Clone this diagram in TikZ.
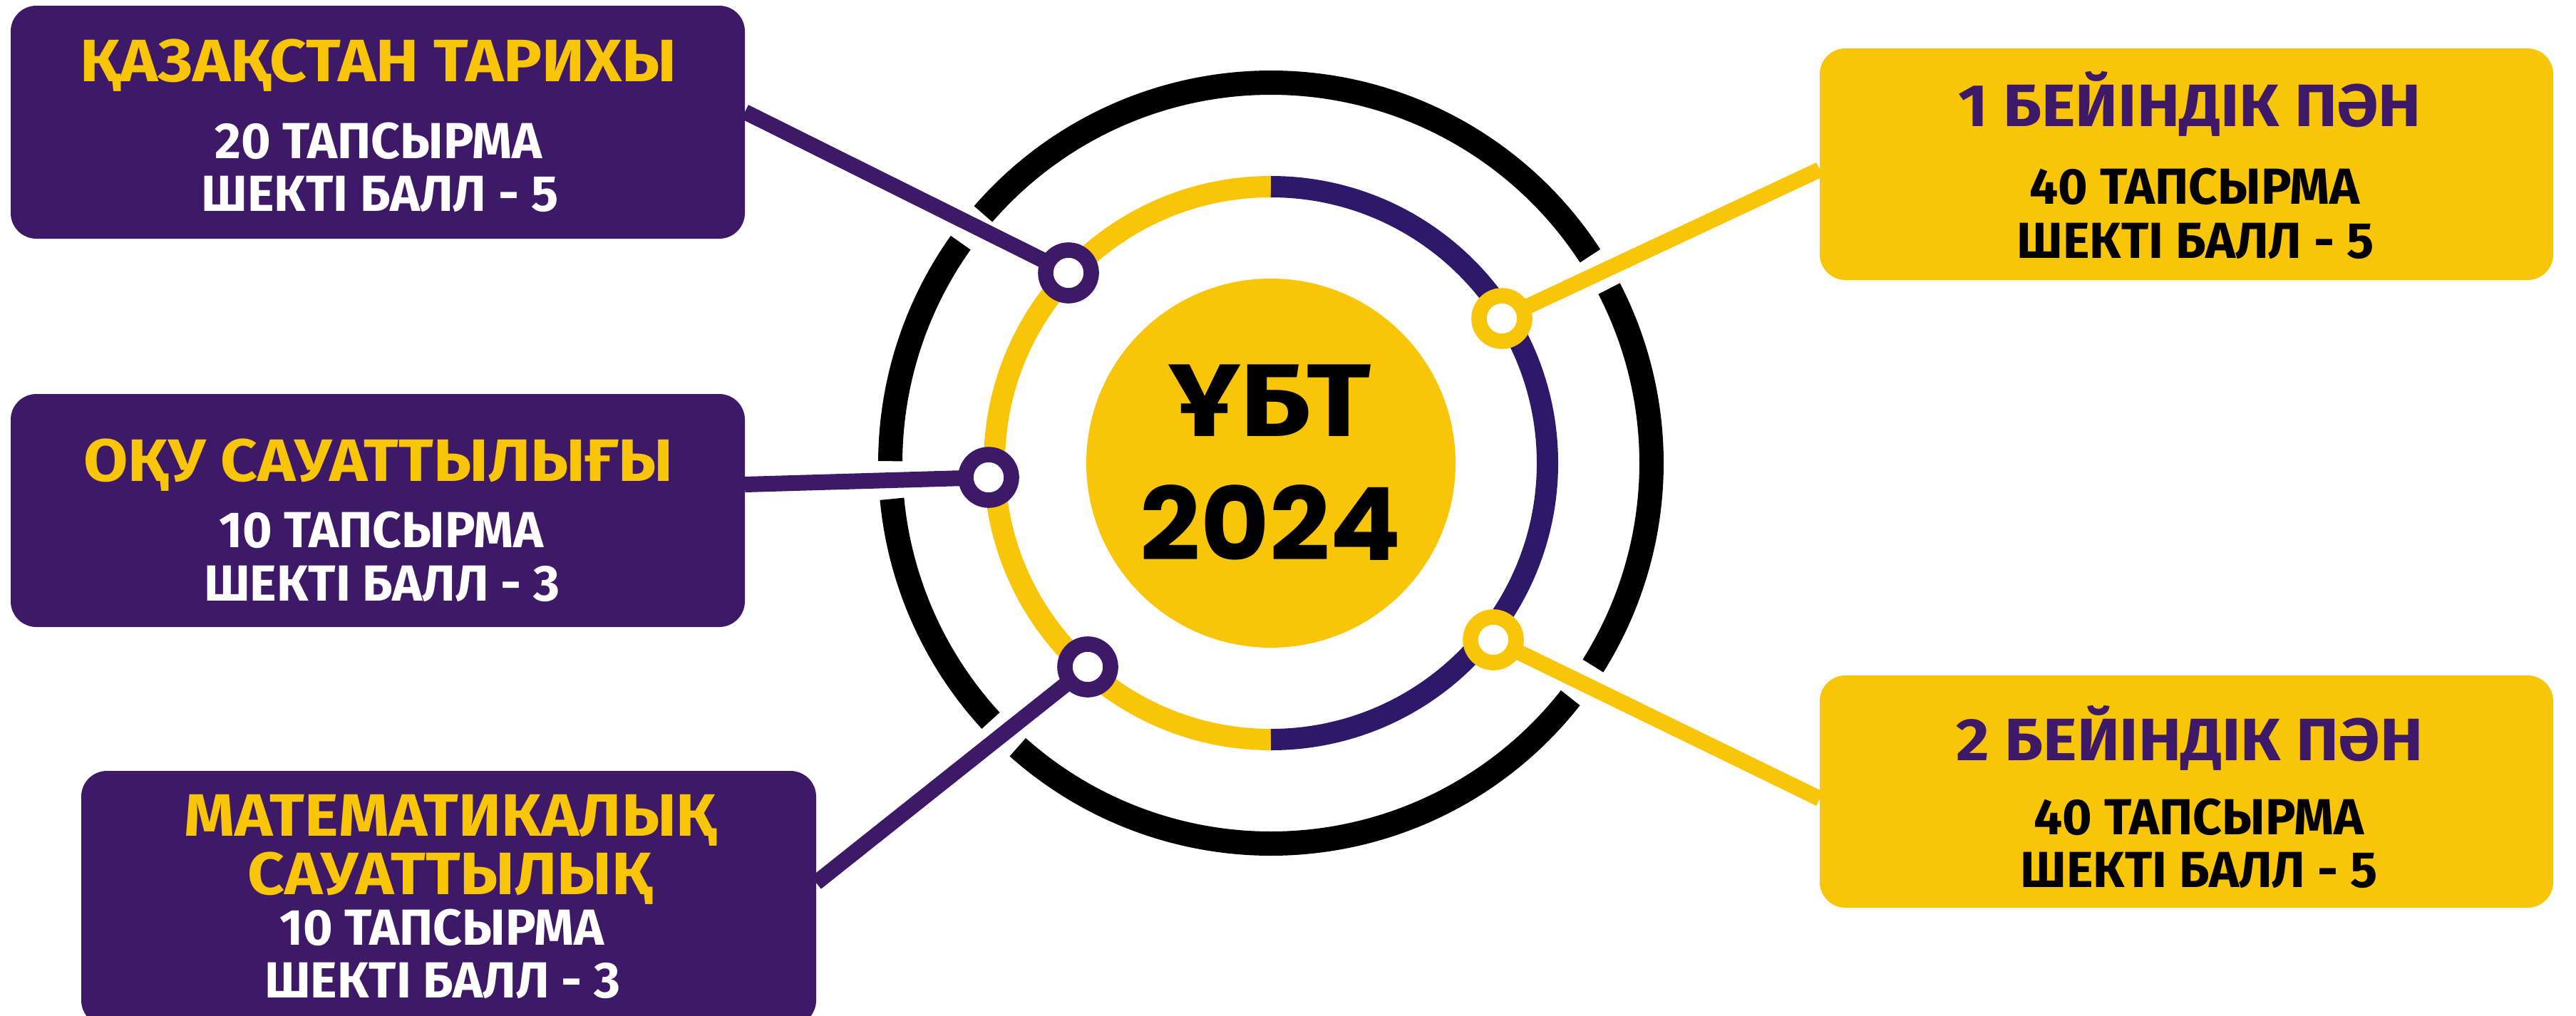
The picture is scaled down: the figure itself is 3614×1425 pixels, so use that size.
\documentclass[tikz,border=0pt]{standalone}
\usepackage{fontspec}
\setmainfont{Fira Sans}
\newfontfamily\popfont{Poppins}
\usetikzlibrary{backgrounds}
\definecolor{bpurple}{RGB}{61,25,104}
\definecolor{rpurple}{RGB}{46,24,106}
\definecolor{byellow}{RGB}{249,197,8}
\newcommand{\wtitle}[1]{\scalebox{1.075}[1]{#1}}
\begin{document}
\begin{tikzpicture}[x=0.25pt,y=-0.25pt,
  pbox/.style={rectangle,fill=bpurple,rounded corners=9pt,inner sep=0pt},
  ybox/.style={rectangle,fill=byellow,rounded corners=9pt,inner sep=0pt},
  ttl/.style={anchor=base,inner sep=0pt,font=\fontsize{21}{25}\selectfont\bfseries},
  sub/.style={anchor=base,inner sep=0pt,font=\fontsize{17.8}{21}\selectfont\bfseries},
  big/.style={anchor=base,inner sep=0pt,font=\fontsize{36.3}{40}\selectfont\bfseries},
  pdot/.style={circle,draw=bpurple,fill=white,line width=5.4pt,minimum size=16pt,inner sep=0pt},
  ydot/.style={circle,draw=byellow,fill=white,line width=5.4pt,minimum size=16pt,inner sep=0pt},
  pcon/.style={draw=bpurple,line width=5.5pt},
  ycon/.style={draw=byellow,line width=5.5pt},
  blackring/.style={draw=black,line width=8.5pt}
]
\clip (0,0) rectangle (3614,1425);
% centre disc
\node[circle,fill=byellow,minimum size=129.5pt,inner sep=0pt] (core) at (1783,650) {};
\node[big] (t1) at (1782,612) {\scalebox{1.15}[1]{ҰБТ}};
\node[big,font=\fontsize{35.5}{40}\selectfont\popfont\bfseries] (t2) at (1783,786) {\scalebox{1.045}[1]{2024}};
% dots
\node[pdot] (d1) at (1499,383) {};
\node[pdot] (d2) at (1387,670) {};
\node[pdot] (d3) at (1526,936) {};
\node[ydot] (d4) at (2107,447) {};
\node[ydot] (d5) at (2095,898) {};
% boxes
\node[pbox,minimum width=257.5pt,minimum height=81.75pt] (b1) at (530,171.5) {};
\node[pbox,minimum width=257.5pt,minimum height=81.75pt] (b2) at (530,716.5) {};
\node[pbox,minimum width=257.75pt,minimum height=89.5pt] (b3) at (629.5,1261) {};
\node[ybox,minimum width=257.25pt,minimum height=81.25pt] (b4) at (3067.5,230.5) {};
\node[ybox,minimum width=257.25pt,minimum height=81.5pt] (b5) at (3067.5,1111) {};
% texts
\node[ttl,text=byellow] (b1a) at (531,114) {\wtitle{ҚАЗАҚСТАН ТАРИХЫ}};
\node[sub,text=white] (b1b) at (531,222) {20 ТАПСЫРМА};
\node[sub,text=white] (b1c) at (533,296) {ШЕКТІ БАЛЛ - 5};
\node[ttl,text=byellow] (b2a) at (531,675) {\wtitle{ОҚУ САУАТТЫЛЫҒЫ}};
\node[sub,text=white] (b2b) at (535,768) {10 ТАПСЫРМА};
\node[sub,text=white] (b2c) at (536,843) {ШЕКТІ БАЛЛ - 3};
\node[ttl,text=byellow] (b3a) at (632,1173) {\wtitle{МАТЕМАТИКАЛЫҚ}};
\node[ttl,text=byellow] (b3b) at (631,1255) {\wtitle{САУАТТЫЛЫҚ}};
\node[sub,text=white] (b3c) at (620,1326) {10 ТАПСЫРМА};
\node[sub,text=white] (b3d) at (621,1400) {ШЕКТІ БАЛЛ - 3};
\node[ttl,text=bpurple] (b4a) at (3072,177) {\wtitle{1 БЕЙІНДІК ПӘН}};
\node[sub,text=black] (b4b) at (3079,286) {40 ТАПСЫРМА};
\node[sub,text=black] (b4c) at (3080,362) {ШЕКТІ БАЛЛ - 5};
\node[ttl,text=bpurple] (b5a) at (3072,1067) {\wtitle{2 БЕЙІНДІК ПӘН}};
\node[sub,text=black] (b5b) at (3085,1171) {40 ТАПСЫРМА};
\node[sub,text=black] (b5c) at (3085,1245) {ШЕКТІ БАЛЛ - 5};
% connector ends on box edges
\coordinate (c1) at (1045,157);
\coordinate (c2) at (1045,680);
\coordinate (c3) at (1145,1239);
\coordinate (c4) at (2553,238);
\coordinate (c5) at (2553,1121);
\begin{pgfonlayer}{background}
\fill[white] (0,0) rectangle (3614,1425);
\coordinate (O) at (1783,650);
\draw[byellow,line width=7.5pt] (O) ++(90:97pt) arc[start angle=90,end angle=270,radius=97pt];
\draw[rpurple,line width=7.5pt] (O) ++(-90:97pt) arc[start angle=-90,end angle=90,radius=97pt];
\foreach \a/\b in {33/139.1,144.6/179.7,185.4/222.6,228.3/321.9,327.8/387.3}
  \draw[blackring] (O) ++(\a:133.5pt) arc[start angle=\a,end angle=\b,radius=133.5pt];
\draw[pcon] (c1) -- (d1.center);
\draw[pcon] (c2) -- (d2.center);
\draw[pcon] (c3) -- (d3.center);
\draw[ycon] (c4) -- (d4.center);
\draw[ycon] (c5) -- (d5.center);
\end{pgfonlayer}
\end{tikzpicture}
\end{document}
